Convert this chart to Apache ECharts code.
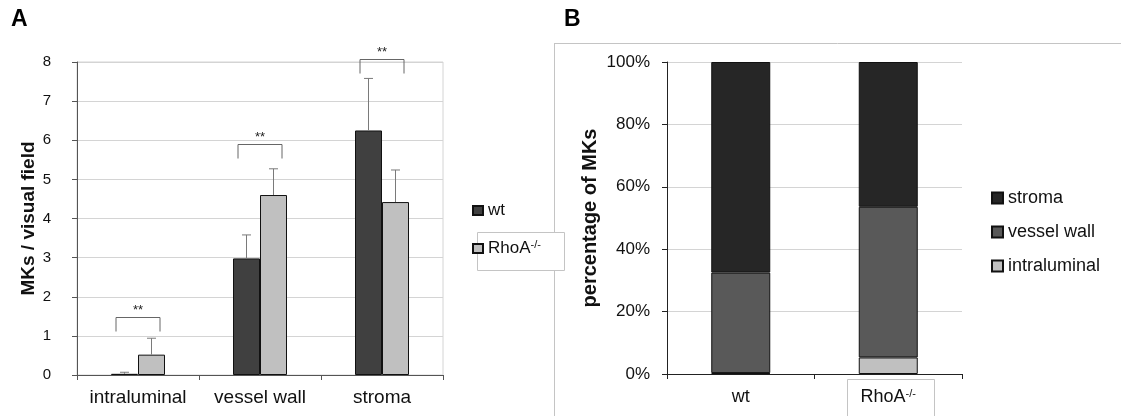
<!DOCTYPE html>
<html>
<head>
<meta charset="utf-8">
<script src="https://cdn.jsdelivr.net/npm/echarts@6/dist/echarts.min.js"></script>
<style>
html,body{margin:0;padding:0;background:#fff;}
#c{width:1121px;height:416px;}
</style>
</head>
<body>
<div id="c"></div>
<script>
// ---- Data (panel A) ----
var categoriesA = ['intraluminal', 'vessel wall', 'stroma'];
var wtMean = [0.03, 2.98, 6.25];
var wtSD = [0.04, 0.60, 1.33];
var rhoaMean = [0.52, 4.60, 4.42];
var rhoaSD = [0.42, 0.67, 0.82];
var bracketTop = [1.48, 5.90, 8.08];
var bracketLabel = ['**', '**', '**'];
var yTicksA = [0, 1, 2, 3, 4, 5, 6, 7, 8];

// ---- Data (panel B) ----
var categoriesB = ['wt', 'RhoA-/-'];
var pctIntraluminal = [0.3, 5.3];
var pctVesselWall = [32.2, 48.3];
var pctStroma = [67.5, 46.4];

var FONT = 'Liberation Sans, Arial, sans-serif';
var BARW = 27;

function supFmt(name) {
  if (name.indexOf('-/-') > 0) {
    return '{n|' + name.replace('-/-', '') + '}{s|-/-}';
  }
  return '{n|' + name + '}';
}

function errRender(offset) {
  return function (params, api) {
    var c = api.value(0), m = api.value(1), sd = api.value(2);
    var p0 = api.coord([c, m]);
    var p1 = api.coord([c, m + sd]);
    var x = p0[0] + offset;
    return {
      type: 'group',
      children: [
        { type: 'line', shape: { x1: x, y1: p0[1], x2: x, y2: p1[1] }, style: { stroke: '#7a7a7a', lineWidth: 1 } },
        { type: 'line', shape: { x1: x - 4.5, y1: p1[1], x2: x + 4.5, y2: p1[1] }, style: { stroke: '#7a7a7a', lineWidth: 1 } }
      ]
    };
  };
}

function bracketRender(params, api) {
  var c = api.value(0), top = api.value(1);
  var p = api.coord([c, top]);
  var xl = p[0] - 22, xr = p[0] + 22, y = Math.round(p[1]) + 0.5;
  return {
    type: 'group',
    children: [
      { type: 'polyline', shape: { points: [[xl, y + 14], [xl, y], [xr, y], [xr, y + 14]] }, style: { stroke: '#666', lineWidth: 1, fill: null } },
      { type: 'text', style: { text: bracketLabel[params.dataIndex], x: p[0], y: y - 1, textAlign: 'center', textVerticalAlign: 'bottom', font: '13px ' + FONT, fill: '#222' } }
    ]
  };
}

var chart = echarts.init(document.getElementById('c'), null, { renderer: 'canvas' });

var richLabel = {
  n: { fontSize: 18, fontFamily: FONT, color: '#111' },
  s: { fontSize: 11, fontFamily: FONT, color: '#111', verticalAlign: 'top', padding: [0, 0, 8, 0] }
};
var richLegend = {
  n: { fontSize: 17, fontFamily: FONT, color: '#111' },
  s: { fontSize: 11, fontFamily: FONT, color: '#111', verticalAlign: 'top', padding: [0, 0, 8, 0] }
};

var option = {
  backgroundColor: '#ffffff',
  animation: false,
  textStyle: { fontFamily: FONT },
  title: [
    { text: 'A', left: 11, top: 8, padding: 0, textStyle: { fontSize: 23, fontWeight: 'bold', color: '#000', fontFamily: FONT } },
    { text: 'B', left: 564, top: 8, padding: 0, textStyle: { fontSize: 23, fontWeight: 'bold', color: '#000', fontFamily: FONT } }
  ],
  graphic: [
    { type: 'line', z: -3, shape: { x1: 554.5, y1: 43, x2: 554.5, y2: 416 }, style: { stroke: '#c4c4c4', lineWidth: 1 } },
    { type: 'line', z: -3, shape: { x1: 554, y1: 43.5, x2: 1121, y2: 43.5 }, style: { stroke: '#c4c4c4', lineWidth: 1 } },
    { type: 'rect', z: -2, shape: { x: 477.5, y: 232.5, width: 87, height: 38 }, style: { fill: '#fff', stroke: '#c4c4c4', lineWidth: 1 } },
    { type: 'rect', z: -2, shape: { x: 847.5, y: 379.5, width: 87, height: 45 }, style: { fill: '#fff', stroke: '#c4c4c4', lineWidth: 1 } }
  ],
  grid: [
    { left: 77, top: 62, width: 366, height: 313, show: true, borderColor: '#d4d4d4', borderWidth: 1, containLabel: false },
    { left: 667, top: 62, width: 295, height: 312, containLabel: false }
  ],
  legend: [
    { data: ['wt'], orient: 'vertical', left: 472, top: 202, padding: 0, itemWidth: 10, itemHeight: 9, icon: 'rect', formatter: supFmt, textStyle: { rich: richLegend } },
    { data: ['RhoA-/-'], orient: 'vertical', left: 472, top: 239, padding: 0, itemWidth: 10, itemHeight: 9, icon: 'rect', formatter: supFmt, textStyle: { rich: richLegend } },
    { data: ['stroma'], orient: 'vertical', left: 991, top: 189, padding: 0, itemWidth: 11, itemHeight: 11, icon: 'rect', textStyle: { fontSize: 18, color: '#111', fontFamily: FONT } },
    { data: ['vessel wall'], orient: 'vertical', left: 991, top: 223, padding: 0, itemWidth: 11, itemHeight: 11, icon: 'rect', textStyle: { fontSize: 18, color: '#111', fontFamily: FONT } },
    { data: ['intraluminal'], orient: 'vertical', left: 991, top: 257, padding: 0, itemWidth: 11, itemHeight: 11, icon: 'rect', textStyle: { fontSize: 18, color: '#111', fontFamily: FONT } }
  ],
  xAxis: [
    {
      type: 'category', gridIndex: 0, data: categoriesA,
      axisLine: { lineStyle: { color: '#555', width: 1 } },
      axisTick: { show: true, length: 5, lineStyle: { color: '#555' } },
      axisLabel: { interval: 0, hideOverlap: false, fontSize: 19, margin: 13, color: '#111', fontFamily: FONT }
    },
    {
      type: 'category', gridIndex: 1, data: categoriesB,
      axisLine: { lineStyle: { color: '#222', width: 1 } },
      axisTick: { show: true, length: 5, lineStyle: { color: '#222' } },
      axisLabel: { interval: 0, margin: 14, formatter: supFmt, rich: richLabel }
    }
  ],
  yAxis: [
    {
      type: 'value', gridIndex: 0, min: 0, max: 8, interval: 1,
      name: 'MKs / visual field', nameLocation: 'middle', nameGap: 34,
      nameTextStyle: { fontSize: 19, fontWeight: 'bold', color: '#111', fontFamily: FONT },
      axisLine: { show: true, lineStyle: { color: '#555', width: 1 } },
      axisTick: { show: true, length: 5, lineStyle: { color: '#555' } },
      axisLabel: {
        fontSize: 15, margin: 26, color: '#111', fontFamily: FONT,
        formatter: function (v) { return yTicksA.indexOf(v) >= 0 ? String(v) : ''; }
      },
      splitLine: { show: true, lineStyle: { color: '#d4d4d4', width: 1 } }
    },
    {
      type: 'value', gridIndex: 1, min: 0, max: 100, interval: 20,
      name: 'percentage of MKs', nameLocation: 'middle', nameGap: 67,
      nameTextStyle: { fontSize: 20, fontWeight: 'bold', color: '#111', fontFamily: FONT },
      axisLine: { show: true, lineStyle: { color: '#222', width: 1 } },
      axisTick: { show: true, length: 5, lineStyle: { color: '#222' } },
      axisLabel: { fontSize: 17, margin: 17, color: '#111', fontFamily: FONT, formatter: '{value}%' },
      splitLine: { show: true, lineStyle: { color: '#d4d4d4', width: 1 } }
    }
  ],
  series: [
    {
      name: 'wt', type: 'bar', xAxisIndex: 0, yAxisIndex: 0, data: wtMean,
      barWidth: BARW, barGap: '0%',
      itemStyle: { color: '#404040', borderColor: '#111', borderWidth: 1 }
    },
    {
      name: 'RhoA-/-', type: 'bar', xAxisIndex: 0, yAxisIndex: 0, data: rhoaMean,
      barWidth: BARW, barGap: '0%',
      itemStyle: { color: '#c0c0c0', borderColor: '#111', borderWidth: 1 }
    },
    {
      name: 'errWt', type: 'custom', xAxisIndex: 0, yAxisIndex: 0, z: 3, clip: false,
      renderItem: errRender(-BARW / 2),
      data: wtMean.map(function (m, i) { return [i, m, wtSD[i]]; })
    },
    {
      name: 'errRhoA', type: 'custom', xAxisIndex: 0, yAxisIndex: 0, z: 3, clip: false,
      renderItem: errRender(BARW / 2),
      data: rhoaMean.map(function (m, i) { return [i, m, rhoaSD[i]]; })
    },
    {
      name: 'brackets', type: 'custom', xAxisIndex: 0, yAxisIndex: 0, z: 3, clip: false,
      renderItem: bracketRender,
      data: bracketTop.map(function (t, i) { return [i, t]; })
    },
    {
      name: 'intraluminal', type: 'bar', stack: 'pct', xAxisIndex: 1, yAxisIndex: 1, data: pctIntraluminal,
      barWidth: 59,
      itemStyle: { color: '#c0c0c0', borderColor: '#111', borderWidth: 1 }
    },
    {
      name: 'vessel wall', type: 'bar', stack: 'pct', xAxisIndex: 1, yAxisIndex: 1, data: pctVesselWall,
      barWidth: 59,
      itemStyle: { color: '#595959', borderColor: '#111', borderWidth: 1 }
    },
    {
      name: 'stroma', type: 'bar', stack: 'pct', xAxisIndex: 1, yAxisIndex: 1, data: pctStroma,
      barWidth: 59,
      itemStyle: { color: '#262626', borderColor: '#111', borderWidth: 1 }
    }
  ]
};

chart.setOption(option);
</script>
</body>
</html>
